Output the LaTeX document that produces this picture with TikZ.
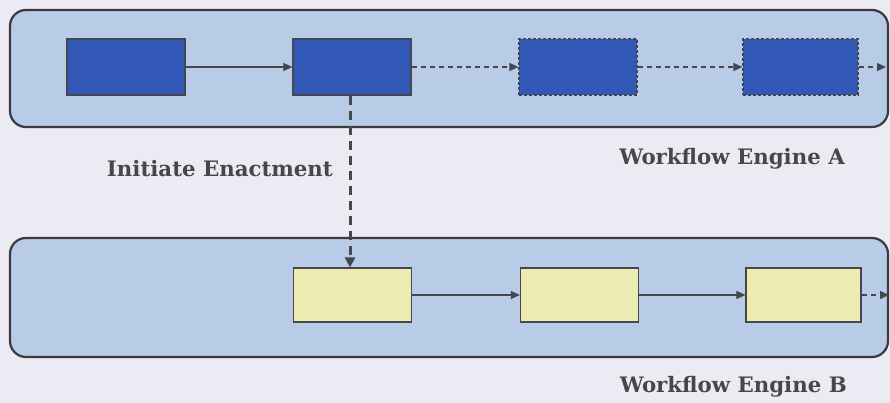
\documentclass[tikz,border=0pt]{standalone}
\usepackage{fontspec}
\setmainfont{DejaVu Serif}
\usetikzlibrary{arrows.meta}
\definecolor{pagebg}{HTML}{ECEBF3}
\definecolor{lanefill}{HTML}{B8CCE7}
\definecolor{laneedge}{HTML}{3A3A40}
\definecolor{taskblue}{HTML}{3158B6}
\definecolor{taskyellow}{HTML}{EBEBB2}
\definecolor{edgegrey}{HTML}{45474C}
\definecolor{labelgrey}{HTML}{47474B}
\tikzset{
  lane/.style={draw=laneedge, line width=2.2pt, fill=lanefill, rounded corners=16pt},
  taskbox/.style={draw=edgegrey, line width=1.2pt, minimum width=118pt, minimum height=56pt, inner sep=0pt},
  activetask/.style={taskbox, fill=taskblue},
  futuretask/.style={taskbox, fill=taskblue, dashed, dash pattern=on 3pt off 2pt},
  childtask/.style={taskbox, fill=taskyellow, minimum height=54pt},
  flow/.style={draw=edgegrey, line width=1.1pt, -{Triangle[length=9pt,width=8pt]}},
  pendingflow/.style={flow, dash pattern=on 5pt off 4pt},
  trigger/.style={draw=edgegrey, line width=3pt, dash pattern=on 9pt off 6pt, -{Triangle[length=10pt,width=10pt]}},
  caption/.style={font=\bfseries\fontsize{21.3}{24}\selectfont, text=labelgrey, inner sep=0pt, anchor=base east}
}
\begin{document}
\begin{tikzpicture}[x=1pt, y=-1pt]
  \useasboundingbox[fill=pagebg] (0,0) rectangle (890,403);

  % swim lanes of the two engines
  \path[lane] (10,10) rectangle (888,127);
  \path[lane] (10,238) rectangle (888,357);

  % engine A tasks
  \node[activetask] (a1) at (126,67) {};
  \node[activetask] (a2) at (352,67) {};
  \node[futuretask] (a3) at (578,67) {};
  \node[futuretask, minimum width=115pt] (a4) at (800.5,67) {};
  \coordinate (aout) at (886,67);

  % engine B tasks
  \node[childtask] (b1) at (352.5,295) {};
  \node[childtask] (b2) at (579.5,295) {};
  \node[childtask, minimum width=115pt] (b3) at (803.5,295) {};
  \coordinate (bout) at (889,295);

  % sequence flows
  \draw[flow] (a1) -- (a2);
  \draw[pendingflow] (a2) -- (a3);
  \draw[pendingflow] (a3) -- (a4);
  \draw[pendingflow] (a4) -- (aout);
  \draw[flow] (b1) -- (b2);
  \draw[flow] (b2) -- (b3);
  \draw[pendingflow] (b3) -- (bout);

  % enactment request from engine A to engine B
  \draw[trigger] (a2.south -| 350,0) -- (b1.north -| 350,0);

  % captions
  \node[caption] (init) at (333,177) {Initiate Enactment};
  \node[caption] (enga) at (845,165) {Workflow Engine A};
  \node[caption] (engb) at (847,392) {Workflow Engine B};
\end{tikzpicture}
\end{document}
